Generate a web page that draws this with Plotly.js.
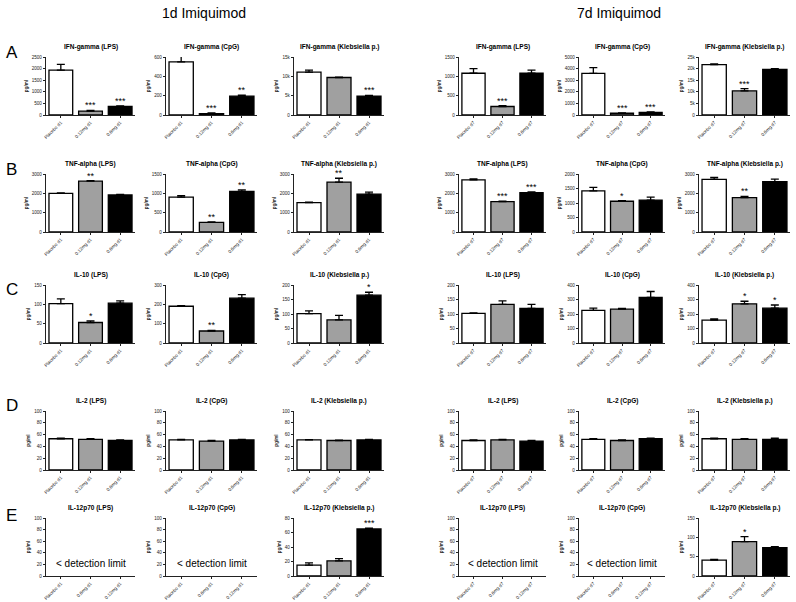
<!DOCTYPE html>
<html><head><meta charset="utf-8">
<script src="https://cdn.plot.ly/plotly-3.0.1.min.js"></script>
<style>html,body{margin:0;padding:0;background:#fff}#chart{width:796px;height:602px}</style>
</head><body><div id="chart"></div>
<script>
// ---------- DATA ----------
const cytokines = ['IFN-gamma','TNF-alpha','IL-10','IL-2','IL-12p70'];
const stimuli = ['LPS','CpG','Klebsiella p.'];
const rowLetters = ['A','B','C','D','E'];
const headers = ['1d Imiquimod','7d Imiquimod'];
const catsD1 = ['Placebo d1','0.12mg d1','0.6mg d1'];
const catsD7 = ['Placebo d7','0.12mg d7','0.6mg d7'];
const catsD1alt = ['Placebo d1','0.6mg d1','0.12mg d1'];
const catsD7alt = ['Placebo d7','0.6mg d7','0.12mg d7'];
const detectionText = '< detection limit';

// per row: 6 panels (LPS d1, CpG d1, Kleb d1, LPS d7, CpG d7, Kleb d7)
const ifnMean  = [[1930,170,370],[550,15,195],[11100,9700,4900],[1080,220,1080],[3580,150,230],[21700,10400,19700]];
const ifnErr   = [[250,30,20],[75,6,10],[500,100,200],[120,20,80],[500,30,30],[300,1000,250]];
const ifnStars = [['','***','***'],['','***','**'],['','','***'],['','***',''],['','***','***'],['','***','']];
const ifnYMax  = [2500,600,15000,1500,5000,25000];
const ifnDtick = [500,200,5000,500,1000,5000];

const tnfMean  = [[2000,2630,1920],[900,250,1050],[1520,2580,1960],[2700,1570,2030],[1420,1060,1100],[2720,1780,2600]];
const tnfErr   = [[25,25,30],[40,10,40],[25,200,100],[50,30,50],[120,20,100],[100,60,130]];
const tnfStars = [['','**',''],['','**','**'],['','**',''],['','***','***'],['','*',''],['','**','']];
const tnfYMax  = [3000,1500,3000,3000,2000,3000];
const tnfDtick = [1000,500,1000,1000,500,1000];

const il10Mean  = [[102,53,103],[190,62,232],[101,80,165],[102,133,119],[225,233,315],[158,270,240]];
const il10Err   = [[12,4,6],[3,3,18],[10,15,10],[2,12,14],[15,5,40],[8,18,22]];
const il10Stars = [['','*',''],['','**',''],['','','*'],['','',''],['','',''],['','*','*']];
const il10YMax  = [150,300,200,200,400,400];
const il10Dtick = [50,100,50,50,100,100];

const il2Mean  = [[53,52,50],[51,49,51],[51,50,51],[50,51,49],[52,50,53],[53,52,52]];
const il2Err   = [[1,1,1],[1,1,1],[0.5,0.5,1],[1,1,1],[1,1,1],[1,1,2]];
const il2Stars = [['','',''],['','',''],['','',''],['','',''],['','',''],['','','']];
const il2YMax  = [100,100,100,100,100,100];
const il2Dtick = [20,20,20,20,20,20];

const il12Mean  = [null,null,[15,21,65],null,null,[41,89,73]];
const il12Err   = [null,null,[3,3,1],null,null,[2,13,3]];
const il12Stars = [null,null,['','','***'],null,null,['','*','']];
const il12YMax  = [100,100,80,100,100,150];
const il12Dtick = [20,20,20,20,20,50];

// ---------- LAYOUT GEOMETRY ----------
const W = 796, H = 602;
const colPx = [[46,135],[166,257],[294,384],[459,546],[579,665],[699,790]];
const rowPx = [[57,115],[174,232],[285,343],[411,470],[518,576]];
const letterY = [52,170,289,405,515];
const FONT = 'Liberation Sans, Arial, sans-serif';
const colors = ['#ffffff','#a0a0a0','#000000'];

const rowsData = [
  [ifnMean, ifnErr, ifnStars, ifnYMax, ifnDtick],
  [tnfMean, tnfErr, tnfStars, tnfYMax, tnfDtick],
  [il10Mean, il10Err, il10Stars, il10YMax, il10Dtick],
  [il2Mean, il2Err, il2Stars, il2YMax, il2Dtick],
  [il12Mean, il12Err, il12Stars, il12YMax, il12Dtick]
];

const traces = [];
const layout = {
  width: W, height: H, margin: {l:0,r:0,t:0,b:0},
  paper_bgcolor: '#fff', plot_bgcolor: 'rgba(0,0,0,0)',
  showlegend: false, font: {family: FONT, color: '#000'},
  annotations: []
};

headers.forEach((h, i) => {
  layout.annotations.push({xref:'paper', yref:'paper', x: (i===0?204:619)/W, y: 1-13/H,
    text: h, showarrow:false, font:{size:14, family:'Liberation Sans Narrow, Liberation Sans, Arial'}, xanchor:'center', yanchor:'middle'});
});

rowLetters.forEach((L, r) => {
  layout.annotations.push({xref:'paper', yref:'paper', x: 4/W, y: 1-letterY[r]/H, text: L,
    showarrow:false, font:{size:17, family:FONT}, xanchor:'left', yanchor:'middle'});
});

let n = 0;
for (let r = 0; r < 5; r++) {
  const [means, errs, stars, ymax, dtick] = rowsData[r];
  for (let c = 0; c < 6; c++) {
    n++;
    const xa = 'x' + (n===1?'':n), ya = 'y' + (n===1?'':n);
    const xkey = 'xaxis' + (n===1?'':n), ykey = 'yaxis' + (n===1?'':n);
    const isD1 = c < 3;
    const empty = means[c] === null;
    let cats = isD1 ? catsD1 : catsD7;
    if (empty) cats = isD1 ? catsD1alt : catsD7alt;
    const [lx, rx] = colPx[c];
    const [ty, by] = rowPx[r];

    layout[xkey] = {domain:[lx/W, rx/W], anchor: ya, type:'category',
      categoryorder:'array', categoryarray: cats, range:[-0.5, 2.5],
      showline:true, linecolor:'#222', linewidth:1.2, ticks:'outside', ticklen:2, tickwidth:1, tickcolor:'#222',
      tickangle:-45, tickfont:{size:4.6, family:FONT, color:'#222'}, showgrid:false, zeroline:false, fixedrange:true};
    layout[ykey] = {domain:[1-by/H, 1-ty/H], anchor: xa, range:[0, ymax[c]], tick0:0, dtick: dtick[c],
      showline:true, linecolor:'#222', linewidth:1.2, ticks:'outside', ticklen:2, tickwidth:1, tickcolor:'#222',
      tickfont:{size:4.6, family:FONT, color:'#222'}, showgrid:false, zeroline:false, fixedrange:true,
      title:{text:'<b>pg/ml</b>', font:{size:4.6, family:FONT, color:'#222'}, standoff:3}};

    if (!empty) {
      traces.push({type:'bar', x: cats, y: means[c], xaxis: xa, yaxis: ya, width: 0.8,
        marker:{color: colors, line:{color:'#000', width:1.3}},
        error_y:{type:'data', symmetric:false, array: errs[c], arrayminus: errs[c].map(()=>0),
          color:'#000', thickness:1.3, width:4},
        hoverinfo:'skip'});
      stars[c].forEach((s, j) => {
        if (!s) return;
        layout.annotations.push({xref: xa, yref: ya, x: cats[j], y: means[c][j] + errs[c][j],
          text: s, showarrow:false, yanchor:'bottom', yshift:-2, font:{size:9, family:FONT}});
      });
    } else {
      traces.push({type:'bar', x: cats, y: [null,null,null], xaxis: xa, yaxis: ya, hoverinfo:'skip'});
      layout.annotations.push({xref: xa, yref: ya, x: cats[1], y: 22, text: detectionText,
        showarrow:false, font:{size:10, family:FONT}, xanchor:'center', yanchor:'middle'});
    }
    layout.annotations.push({xref:'paper', yref:'paper', x: ((lx+rx)/2)/W, y: 1-(ty-10)/H,
      text: '<b>' + cytokines[r] + ' (' + stimuli[c%3] + ')</b>', showarrow:false,
      font:{size:6.5, family:FONT}, xanchor:'center', yanchor:'middle'});
  }
}

Plotly.newPlot('chart', traces, layout, {displayModeBar:false, staticPlot:true});
</script>
</body></html>
